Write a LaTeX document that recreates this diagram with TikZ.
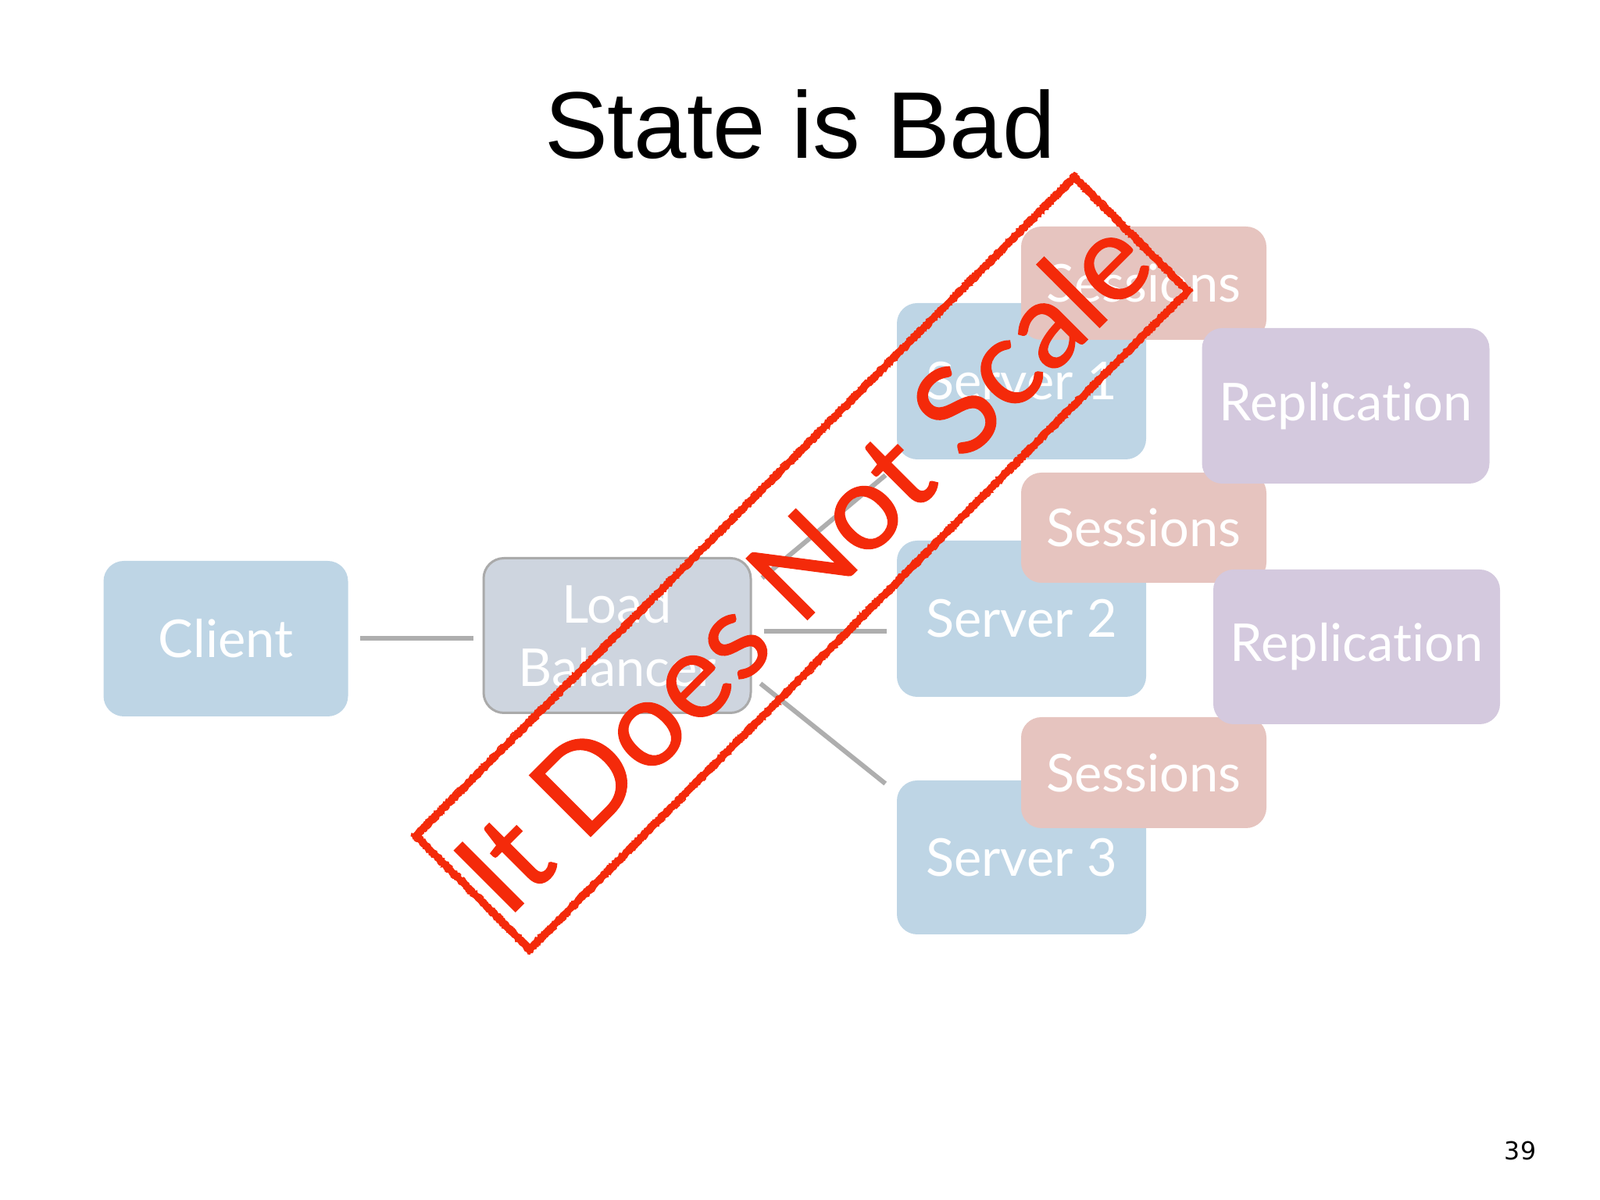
\documentclass[tikz,border=0pt]{standalone}
\usepackage{fontspec}
\setmainfont{Lato}[Ligatures=NoCommon]
\newfontfamily\titlefont{Liberation Sans}
\newfontfamily\pagefont{DejaVu Sans}
\newfontfamily\stampfont{Lato}[FakeBold=0.8]
\usetikzlibrary{decorations.pathmorphing}
\definecolor{paleblue}{RGB}{190,213,229}
\definecolor{palepink}{RGB}{230,196,191}
\definecolor{palepurple}{RGB}{212,201,222}
\definecolor{palegray}{RGB}{206,213,223}
\definecolor{edgegray}{RGB}{170,170,170}
\definecolor{linkgray}{RGB}{174,174,174}
\definecolor{stampred}{RGB}{244,42,10}
\begin{document}
\begin{tikzpicture}[
    box/.style={rectangle, rounded corners=0.26cm, inner sep=0pt, text=white,
      align=center, font=\fontsize{19}{23}\selectfont},
    bluebox/.style={box, fill=paleblue, minimum width=3.19cm, minimum height=2cm},
    sessbox/.style={box, fill=palepink, minimum width=3.14cm, minimum height=1.43cm},
    replbox/.style={box, fill=palepurple, minimum width=3.68cm, minimum height=1.99cm},
    lbbox/.style={box, fill=palegray, draw=edgegray, line width=0.03cm,
      minimum width=3.42cm, minimum height=1.98cm},
    rough/.style={stampred, line width=0.02cm, decorate,
      decoration={random steps, segment length=0.02cm, amplitude=0.012cm}}
  ]
  \useasboundingbox (0,0) rectangle (20.48,15.36);
  \draw (10.24,13.33) node[anchor=base, font=\titlefont\fontsize{34.5}{40}\selectfont] (title){State is Bad};
  \draw
    (2.89,7.185) node[bluebox, minimum width=3.13cm, minimum height=1.99cm] (client){Client}
    (7.90,7.225) node[lbbox] (lb){Load\\Balancer}
    (13.075,10.48) node[bluebox] (s1){Server 1}
    (13.075,7.44) node[bluebox] (s2){Server 2}
    (13.075,4.385) node[bluebox, minimum height=1.97cm] (s3){Server 3}
    (14.64,11.735) node[sessbox, minimum height=1.45cm] (sess1){Sessions}
    (14.64,8.605) node[sessbox, minimum height=1.41cm] (sess2){Sessions}
    (14.64,5.47) node[sessbox, minimum height=1.42cm] (sess3){Sessions}
    (17.225,10.165) node[replbox] (repl1){Replication}
    (17.365,7.08) node[replbox, minimum width=3.67cm, minimum height=1.98cm] (repl2){Replication};
  \begin{scope}[linkgray, line width=0.06cm, shorten <=0.15cm, shorten >=0.12cm]
    \draw (client.east) to (client.east -| lb.west);
    \draw ([yshift=0.05cm]lb.east) to ([yshift=0.05cm]lb.east -| s2.west);
    \draw[shorten <=0.17cm, shorten >=0.18cm] (lb.20) to ([yshift=-0.08cm]s1.south west);
    \draw[shorten <=0.14cm, shorten >=0.18cm] (lb.-17) to ([yshift=-0.16cm]s3.north west);
  \end{scope}
  % stamp
  \begin{scope}[shift={(10.265,8.15)}, rotate=45]
    \draw[stampred, line width=0.08cm] (-5.96,-1.03) rectangle (5.96,1.03);
    \draw[rough] (-6.0,-1.07) rectangle (6.0,1.07);
    \draw[rough] (-5.92,-0.99) rectangle (5.92,0.99);
  \end{scope}
  \draw (10.265,8.15) node[rotate=45, text=stampred, inner sep=0pt, text height=1.12cm,
    text depth=0pt, font=\stampfont\fontsize{44}{50}\selectfont] (stamp){It Does Not Scale};
  \draw (19.46,0.625) node[font=\pagefont\fontsize{9}{11}\selectfont] (page){39};
\end{tikzpicture}
\end{document}
